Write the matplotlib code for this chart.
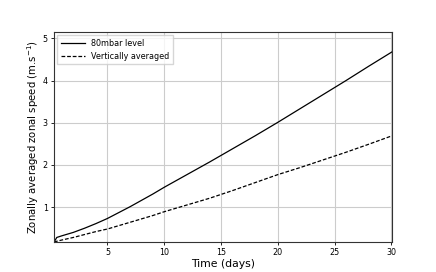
import matplotlib
matplotlib.use("Agg")
import matplotlib.pyplot as plt
import numpy as np

days = [0.3, 0.54, 1, 2, 3, 4, 5, 6, 7, 8, 9, 10, 12, 14, 16, 18, 20, 22, 24, 26, 28, 30.05]
level80 = [0.17, 0.28, 0.32, 0.40, 0.50, 0.61, 0.73, 0.87, 1.01, 1.16, 1.31, 1.47, 1.77, 2.07, 2.38, 2.69, 3.01, 3.34, 3.67, 4.00, 4.34, 4.68]
vert_avg = [0.17, 0.19, 0.22, 0.28, 0.35, 0.42, 0.48, 0.56, 0.64, 0.72, 0.80, 0.89, 1.05, 1.21, 1.39, 1.58, 1.77, 1.94, 2.12, 2.30, 2.49, 2.69]
xticks = [5, 10, 15, 20, 25, 30]
yticks = [1, 2, 3, 4, 5]

fig = plt.figure(figsize=(4.36, 2.72), dpi=100)
ax = fig.add_axes([0.124, 0.110, 0.775, 0.772])
ax.plot(days, level80, color="black", lw=0.9, label="80mbar level")
ax.plot(days, vert_avg, color="black", lw=0.9, ls="--", dashes=(3, 1.5), label="Vertically averaged")
ax.set_xlim(0.3, 30.05)
ax.set_ylim(0.17, 5.15)
ax.set_xticks(xticks)
ax.set_yticks(yticks)
ax.grid(True, color="#cccccc", lw=0.8)
ax.tick_params(labelsize=5.8, length=2.5, width=0.6, pad=2)
for s in ax.spines.values():
    s.set_color("#333333")
    s.set_linewidth(0.8)
ax.set_xlabel("Time (days)", fontsize=7.8, labelpad=1)
ax.set_ylabel("Zonally averaged zonal speed (m.s$^{-1}$)", fontsize=7.3, labelpad=1.5)
ax.legend(loc="upper left", fontsize=5.8, handlelength=3, borderaxespad=0.4, fancybox=False, framealpha=0.8)
fig.savefig("out.png", dpi=100)
